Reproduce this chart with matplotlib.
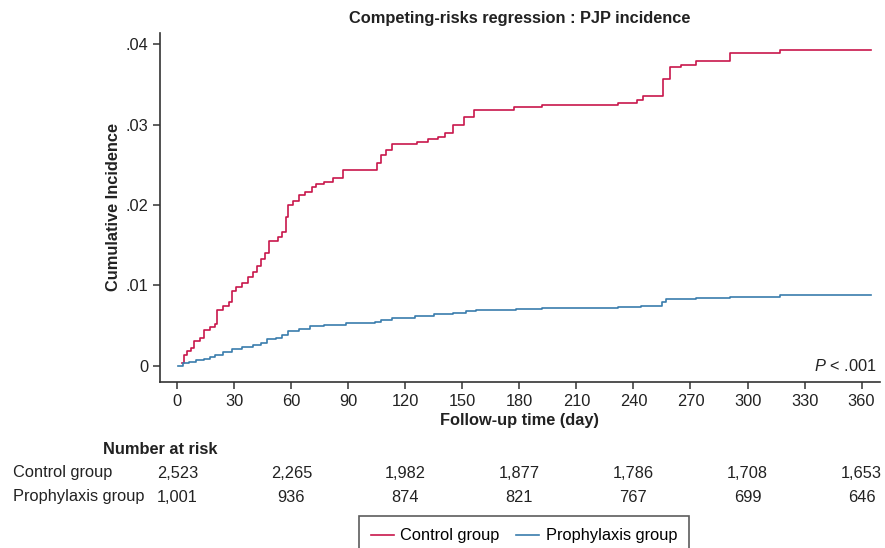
import matplotlib
matplotlib.use("Agg")
import matplotlib.pyplot as plt
import matplotlib.transforms as mtransforms

plt.rcParams['font.family'] = ['Liberation Sans', 'DejaVu Sans']
plt.rcParams['mathtext.fontset'] = 'custom'
plt.rcParams['mathtext.it'] = 'Liberation Sans:italic'
plt.rcParams['mathtext.rm'] = 'Liberation Sans'

# data
control_days = [2.5, 3.5, 5, 7, 9, 12, 14, 17, 20, 21, 24, 27, 29, 31, 34, 37, 40, 42, 44, 46, 48,
                53, 55, 57, 58, 61, 64, 67, 71, 73, 77, 82, 87, 105, 107, 110, 113, 126, 132, 137,
                141, 145, 151, 156, 177, 192, 232, 242, 245, 255.5, 259, 265, 273, 291, 317, 365]
control_cif = [0.0004, 0.0014, 0.0018, 0.0022, 0.0031, 0.0035, 0.0045, 0.0048, 0.0052, 0.0070,
               0.0074, 0.0079, 0.0093, 0.0098, 0.0103, 0.0110, 0.0117, 0.0124, 0.0133, 0.0140,
               0.0155, 0.0160, 0.0167, 0.0185, 0.0200, 0.0205, 0.0212, 0.0216, 0.0222, 0.0226,
               0.0229, 0.0233, 0.0243, 0.0252, 0.0262, 0.0268, 0.0276, 0.0278, 0.0282, 0.0285,
               0.0289, 0.0299, 0.0309, 0.0318, 0.0322, 0.0324, 0.0327, 0.0331, 0.0336, 0.0357,
               0.0371, 0.0374, 0.0379, 0.0389, 0.0393, 0.0393]

proph_days = [0.5, 3, 6, 10, 14, 17, 20, 24, 29, 34, 40, 44, 47, 52, 55, 58, 64, 70, 77, 89, 104,
              107, 113, 125, 135, 145, 152, 157, 178, 192, 232, 244, 255, 257, 273, 291, 317, 365]
proph_cif = [0.0000, 0.0003, 0.0005, 0.0007, 0.0009, 0.0011, 0.0014, 0.0017, 0.0021, 0.0023,
             0.0026, 0.0029, 0.0033, 0.0035, 0.0038, 0.0043, 0.0046, 0.0049, 0.0051, 0.0053,
             0.0054, 0.0057, 0.0060, 0.0062, 0.0064, 0.0066, 0.0068, 0.0070, 0.0071, 0.0072,
             0.0073, 0.0075, 0.0079, 0.0083, 0.0084, 0.0086, 0.0088, 0.0088]

x_ticks = list(range(0, 361, 30))
y_ticks = [0, 0.01, 0.02, 0.03, 0.04]
y_ticklabels = ['0', '.01', '.02', '.03', '.04']

risk_days = [0, 60, 120, 180, 240, 300, 360]
risk_control = ['2,523', '2,265', '1,982', '1,877', '1,786', '1,708', '1,653']
risk_proph = ['1,001', '936', '874', '821', '767', '699', '646']

red = '#C8174C'
blue = '#3A7DAD'
txt = '#222222'
fs = 11.8

W, H = 885, 548
fig = plt.figure(figsize=(W / 100, H / 100), dpi=100)
ax = fig.add_axes([160 / W, 1 - 381.7 / H, 720 / W, (381.7 - 33) / H])

ax.plot(control_days, control_cif, drawstyle='steps-post', color=red, lw=1.2, label='Control group')
ax.plot(proph_days, proph_cif, drawstyle='steps-post', color=blue, lw=1.2, label='Prophylaxis group')

ax.set_xlim(-9.1, 369.7)
ax.set_ylim(-0.00197, 0.04138)
ax.set_xticks(x_ticks)
ax.set_yticks(y_ticks)
ax.set_yticklabels(y_ticklabels)
ax.tick_params(labelsize=fs, colors='#333333', labelcolor=txt, length=5, width=1.1)
for s in ['top', 'right']:
    ax.spines[s].set_visible(False)
for s in ['left', 'bottom']:
    ax.spines[s].set_color('#333333')
    ax.spines[s].set_linewidth(1.2)

ax.set_title('Competing-risks regression : PJP incidence', fontsize=fs, fontweight='bold',
             color=txt, pad=7)
ax.set_xlabel('Follow-up time (day)', fontsize=fs, fontweight='bold', color=txt, labelpad=3)
ax.set_ylabel('Cumulative Incidence', fontsize=fs, fontweight='bold', color=txt, labelpad=3)

ax.text(0.995, 0.045, '$P$ < .001', transform=ax.transAxes, ha='right', va='center',
        fontsize=fs, color=txt)

# number at risk table
tr = mtransforms.blended_transform_factory(ax.transData, fig.transFigure)
fig.text(160 / W, 1 - 449 / H, 'Number at risk', ha='center', va='center', fontsize=fs,
         fontweight='bold', color=txt)
for yy, name, vals in [(473, 'Control group', risk_control), (497, 'Prophylaxis group', risk_proph)]:
    fig.text(13 / W, 1 - yy / H, name, ha='left', va='center', fontsize=fs, color=txt)
    for d, v in zip(risk_days, vals):
        ax.text(d, 1 - yy / H, v, transform=tr, ha='center', va='center', fontsize=fs,
                color=txt, clip_on=False)

h, l = ax.get_legend_handles_labels()
leg = fig.legend(h, l, loc='upper center', bbox_to_anchor=(524 / W, 1 - 516 / H), ncol=2,
                 fontsize=fs, frameon=True, fancybox=False, edgecolor='#333333',
                 handlelength=1.4, handletextpad=0.4, columnspacing=1.0, borderpad=0.75,
                 borderaxespad=0)
leg.get_frame().set_linewidth(1.2)
for line in leg.get_lines():
    line.set_linewidth(1.2)

fig.savefig('out.png', dpi=100)
